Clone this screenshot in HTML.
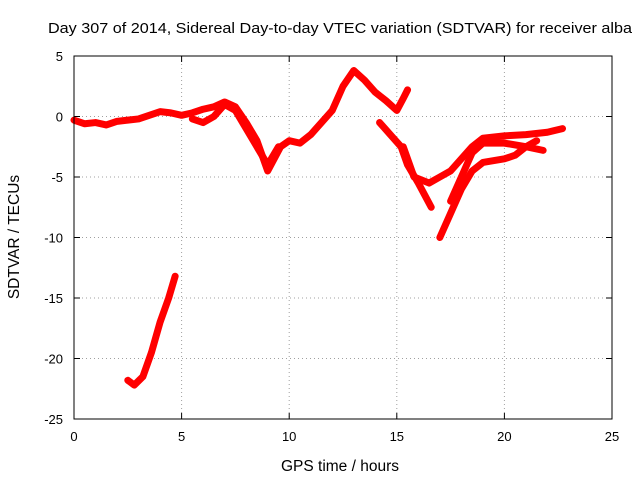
<!DOCTYPE html>
<html><head><meta charset="utf-8"><style>
body{margin:0;background:#fff}
svg{display:block;font-family:"Liberation Sans",Arial,sans-serif}
</style></head><body>
<svg id="chart" width="640" height="480">
<rect width="640" height="480" fill="#fff"/>
<text x="340" y="33" text-anchor="middle" font-size="15" textLength="584" lengthAdjust="spacingAndGlyphs">Day 307 of 2014, Sidereal Day-to-day VTEC variation (SDTVAR) for receiver alba</text>
<text x="340" y="471" text-anchor="middle" font-size="15.5">GPS time / hours</text>
<text transform="translate(19,237) rotate(-90)" text-anchor="middle" font-size="15.5">SDTVAR / TECUs</text>
<g id="grid"></g><g id="ticks"></g><g id="series"></g>
<rect x="74" y="56" width="538" height="363" fill="none" stroke="#000" stroke-width="1"/>
</svg>
<script>
const xTicks=[0,5,10,15,20,25];
const yTicks=[5,0,-5,-10,-15,-20,-25];
const s1x=[0,0.5,1,1.5,2,2.5,3,3.5,4,4.5,5,5.5,6,6.5,7,7.5,8,8.5,9,9.3,9.6,10,10.5,11,11.5,12,12.5,13,13.5,14,14.5,15,15.3,15.5];
const s1y=[-0.3,-0.6,-0.5,-0.7,-0.4,-0.3,-0.2,0.1,0.4,0.3,0.1,0.3,0.6,0.8,1.2,0.8,-0.5,-2,-4.5,-3.5,-2.5,-2,-2.2,-1.5,-0.5,0.5,2.5,3.8,3,2,1.3,0.5,1.5,2.2];
const s2x=[5.5,6,6.5,7,7.5,8,8.5,9,9.5];
const s2y=[-0.2,-0.5,0,1,0.5,-1,-2.5,-4,-2.5];
const s3x=[14.2,14.7,15.2,15.5,16,16.6];
const s3y=[-0.5,-1.5,-2.5,-4,-5.5,-7.5];
const s4x=[15.3,15.8,16.5,17,17.5,18,18.5,19,20,21,22,22.7];
const s4y=[-2.5,-5,-5.5,-5,-4.5,-3.5,-2.5,-1.8,-1.6,-1.5,-1.3,-1];
const s5x=[17,17.5,18,18.5,19,20,20.5,21,21.5];
const s5y=[-10,-8,-6,-4.5,-3.8,-3.5,-3.2,-2.5,-2];
const s6x=[17.5,18,18.5,19,20,21,21.8];
const s6y=[-7,-5,-3,-2.2,-2.2,-2.5,-2.8];
const s7x=[2.5,2.8,3.2,3.6,4,4.4,4.7];
const s7y=[-21.8,-22.2,-21.5,-19.5,-17,-15,-13.2];
const NS='http://www.w3.org/2000/svg';
const X=v=>74+v*(538/25);
const Y=v=>56+(5-v)*(363/30);
function mk(t,a,p){const e=document.createElementNS(NS,t);for(const k in a)e.setAttribute(k,a[k]);p.appendChild(e);return e;}
const g=document.getElementById('grid'),tk=document.getElementById('ticks'),se=document.getElementById('series');
xTicks.forEach(v=>{
 if(v>0&&v<25){const l=mk('line',{x1:X(v),x2:X(v),y1:56,y2:419,stroke:'#a0a0a0','stroke-dasharray':'1,3'},g);
 
 }
 const t=mk('text',{x:X(v),y:441,'text-anchor':'middle','font-size':13},tk);t.textContent=v;
 
 
 mk('line',{x1:X(v),x2:X(v),y1:419,y2:413,stroke:'#000'},tk);mk('line',{x1:X(v),x2:X(v),y1:56,y2:62,stroke:'#000'},tk);
});
yTicks.forEach(v=>{
 if(v<5&&v>-25){const l=mk('line',{x1:74,x2:612,y1:Y(v),y2:Y(v),stroke:'#a0a0a0','stroke-dasharray':'1,3'},g);
 
 }
 const t=mk('text',{x:63,y:Y(v)+5,'text-anchor':'end','font-size':13},tk);t.textContent=v;
 
 
 mk('line',{x1:74,x2:80,y1:Y(v),y2:Y(v),stroke:'#000'},tk);mk('line',{x1:612,x2:606,y1:Y(v),y2:Y(v),stroke:'#000'},tk);
});
[[s1x,s1y],[s2x,s2y],[s3x,s3y],[s4x,s4y],[s5x,s5y],[s6x,s6y],[s7x,s7y]].forEach((s,i)=>{
 const pts=s[0].map((x,j)=>X(x)+','+Y(s[1][j])).join(' ');
 const p=mk('polyline',{points:pts,fill:'none',stroke:'#f00','stroke-width':7,'stroke-linejoin':'round','stroke-linecap':'round'},se);
 
 
});
</script>
</body></html>
